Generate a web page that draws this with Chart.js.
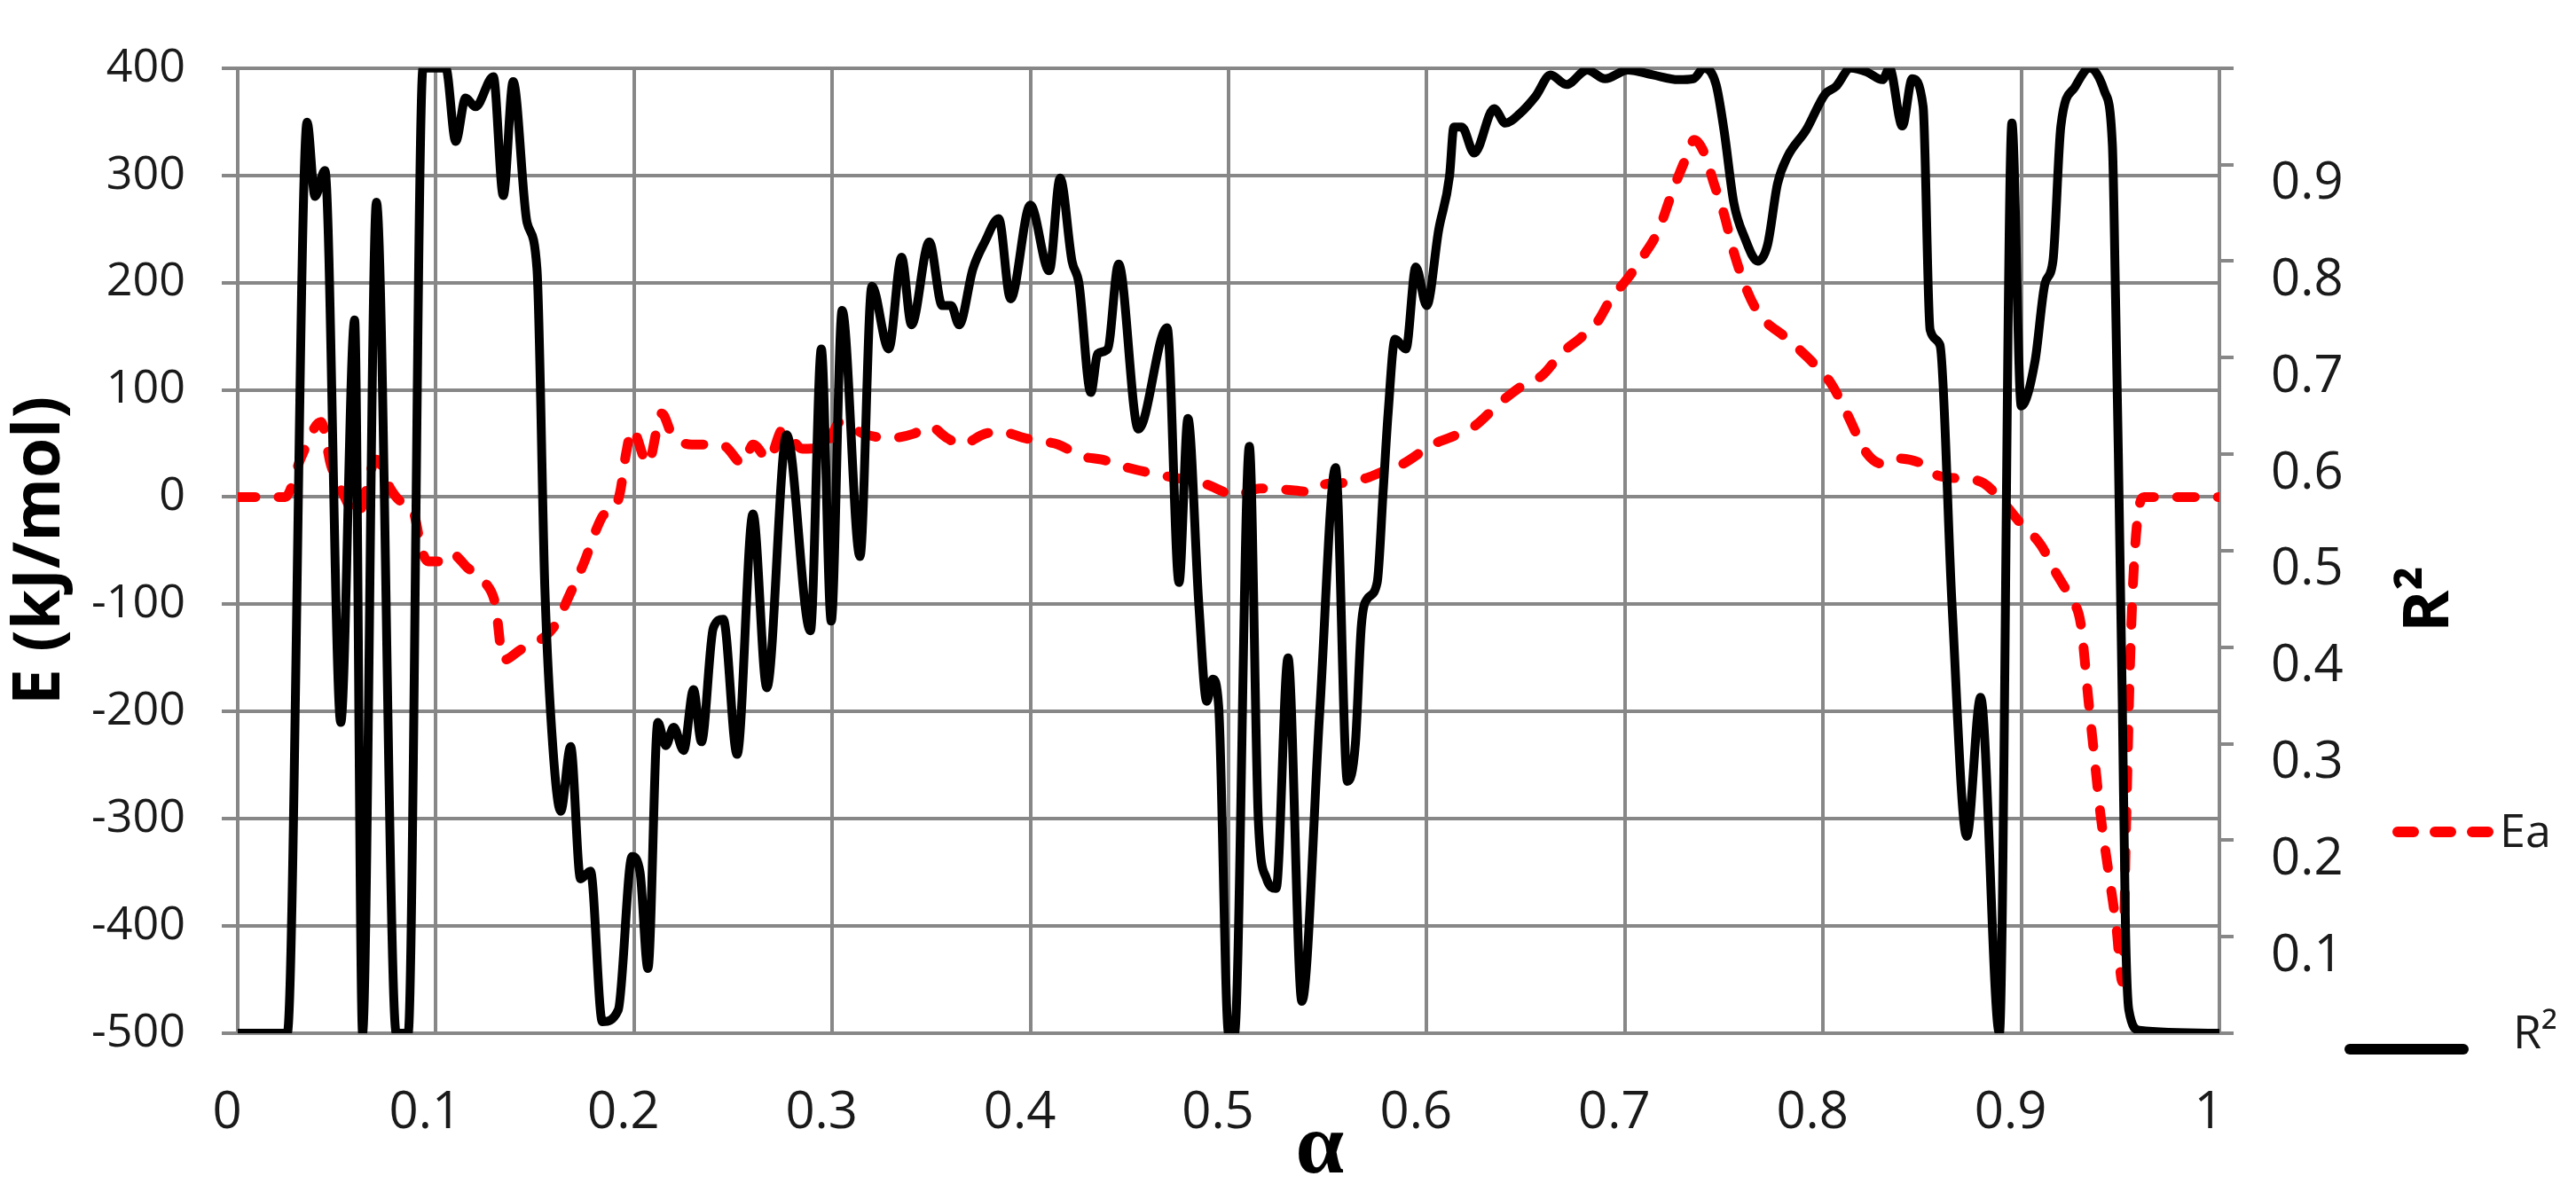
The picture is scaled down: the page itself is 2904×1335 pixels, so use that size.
<!DOCTYPE html>
<html>
<head>
<meta charset="utf-8">
<script src="https://cdn.jsdelivr.net/npm/chart.js@4.4.0/dist/chart.umd.min.js"></script>
<style>
  html, body { margin: 0; padding: 0; background: #fff; }
  #wrap { width: 2904px; height: 1335px; position: relative; }
</style>
</head>
<body>
<div id="wrap"><canvas id="chart"></canvas></div>
<script>
// conversion degree
var alphaEa = [0, 0.024, 0.032, 0.042, 0.047, 0.054, 0.060, 0.070, 0.077, 0.083,
  0.088, 0.093, 0.096, 0.104, 0.108, 0.116, 0.125, 0.130, 0.134, 0.143,
  0.155, 0.161, 0.167, 0.175, 0.181, 0.185, 0.190, 0.193, 0.196, 0.199,
  0.207, 0.214, 0.219, 0.229, 0.235, 0.245, 0.255, 0.260, 0.268, 0.275,
  0.285, 0.297, 0.304, 0.316, 0.329, 0.341, 0.349, 0.358, 0.365, 0.377,
  0.385, 0.397, 0.406, 0.414, 0.426, 0.436, 0.450, 0.467, 0.487, 0.504,
  0.516, 0.528, 0.541, 0.549, 0.557, 0.570, 0.578, 0.588, 0.603, 0.611,
  0.624, 0.637, 0.650, 0.658, 0.668, 0.678, 0.686, 0.693, 0.701, 0.709,
  0.717, 0.724, 0.731, 0.735, 0.740, 0.745, 0.750, 0.755, 0.762, 0.768,
  0.781, 0.794, 0.804, 0.812, 0.822, 0.830, 0.837, 0.850, 0.858, 0.871,
  0.881, 0.891, 0.899, 0.910, 0.917, 0.925, 0.930, 0.934, 0.937, 0.940,
  0.944, 0.948, 0.951, 0.953, 0.955, 0.957, 0.960, 0.962, 1];
// activation energy, kJ/mol
var ea = [0, 0, 37, 70, 30, 0, -18, 35, 8, -5,
  -10, -50, -60, -60, -53, -66, -80, -100, -152, -142,
  -130, -117, -93, -60, -30, -16, -12, 5, 41, 63,
  31, 78, 59, 49, 49, 48, 31, 49, 35, 63,
  45, 49, 70, 59, 55, 59, 66, 55, 49, 59,
  61, 55, 52, 49, 38, 35, 27, 20, 13, 2,
  8, 7, 5, 12, 13, 18, 24, 31, 49, 55,
  66, 88, 106, 113, 134, 149, 163, 185, 203, 224,
  249, 285, 317, 333, 321, 292, 264, 228, 191, 170,
  149, 127, 106, 78, 41, 31, 36, 31, 20, 17,
  13, -5, -23, -45, -69, -95, -118, -191, -244, -296,
  -349, -401, -452, -300, -150, -60, -5, 0, 0];

var alphaR2 = [0, 0.025, 0.035, 0.039, 0.044, 0.052, 0.059, 0.063, 0.070, 0.080,
  0.086, 0.0935, 0.105, 0.110, 0.115, 0.120, 0.129, 0.134, 0.139, 0.146,
  0.151, 0.155, 0.159, 0.163, 0.168, 0.173, 0.178, 0.184, 0.192, 0.199,
  0.203, 0.207, 0.212, 0.216, 0.220, 0.225, 0.230, 0.234, 0.240, 0.245,
  0.252, 0.260, 0.267, 0.277, 0.289, 0.2945, 0.2995, 0.305, 0.314, 0.320,
  0.3285, 0.335, 0.340, 0.349, 0.3555, 0.360, 0.364, 0.371, 0.377, 0.384,
  0.390, 0.400, 0.4095, 0.415, 0.421, 0.4245, 0.4305, 0.434, 0.439, 0.4445,
  0.4545, 0.469, 0.475, 0.4795, 0.485, 0.489, 0.492, 0.495, 0.500, 0.503,
  0.5105, 0.515, 0.519, 0.524, 0.530, 0.537, 0.546, 0.554, 0.560, 0.564,
  0.567, 0.570, 0.575, 0.578, 0.5805, 0.584, 0.5895, 0.5945, 0.600, 0.606,
  0.6115, 0.6137, 0.6177, 0.624, 0.634, 0.6397, 0.647, 0.655, 0.6625, 0.6705,
  0.681, 0.690, 0.7015, 0.714, 0.727, 0.7345, 0.740, 0.746, 0.750, 0.755,
  0.7605, 0.767, 0.772, 0.777, 0.782, 0.7915, 0.801, 0.8065, 0.814, 0.822,
  0.830, 0.8335, 0.840, 0.845, 0.8505, 0.854, 0.859, 0.865, 0.8725, 0.8795,
  0.889, 0.8953, 0.900, 0.907, 0.912, 0.916, 0.920, 0.927, 0.9346, 0.942,
  0.946, 0.9476, 0.949, 0.951, 0.9526, 0.9543, 0.9597, 1];
var r2 = [0, 0, 0.944, 0.867, 0.894, 0.322, 0.739, 0, 0.861, 0,
  0, 1, 1, 0.924, 0.969, 0.960, 0.991, 0.868, 0.986, 0.840,
  0.792, 0.460, 0.297, 0.230, 0.297, 0.160, 0.168, 0.012, 0.024, 0.183,
  0.167, 0.067, 0.322, 0.298, 0.317, 0.293, 0.356, 0.302, 0.420, 0.429,
  0.289, 0.538, 0.358, 0.620, 0.417, 0.709, 0.427, 0.749, 0.494, 0.774,
  0.709, 0.804, 0.734, 0.820, 0.754, 0.754, 0.734, 0.792, 0.820, 0.844,
  0.761, 0.858, 0.790, 0.886, 0.800, 0.777, 0.664, 0.704, 0.709, 0.797,
  0.626, 0.731, 0.467, 0.637, 0.444, 0.344, 0.367, 0.339, 0, 0,
  0.608, 0.222, 0.161, 0.150, 0.389, 0.033, 0.333, 0.586, 0.261, 0.300,
  0.422, 0.450, 0.467, 0.561, 0.642, 0.719, 0.709, 0.794, 0.754, 0.832,
  0.888, 0.939, 0.939, 0.912, 0.958, 0.943, 0.953, 0.971, 0.993, 0.983,
  0.998, 0.989, 0.998, 0.993, 0.988, 0.989, 1, 0.983, 0.936, 0.860,
  0.824, 0.800, 0.817, 0.880, 0.908, 0.936, 0.973, 0.981, 1, 0.996,
  0.988, 1, 0.940, 0.989, 0.960, 0.729, 0.713, 0.447, 0.204, 0.348,
  0, 0.943, 0.650, 0.697, 0.777, 0.800, 0.940, 0.980, 1, 0.976,
  0.920, 0.761, 0.601, 0.343, 0.110, 0.024, 0.003, 0];

var gridColor = '#878787';
var textColor = '#1a1a1a';
var dash = [20, 26];

function points(xs, ys) {
  return xs.map(function (x, i) { return { x: x, y: ys[i] }; });
}

// alpha, rotated R² title and the legend on the right side
var extras = {
  id: 'extras',
  afterDraw: function (chart) {
    var ctx = chart.ctx;
    var area = chart.chartArea;
    var sets = chart.data.datasets;
    ctx.save();
    ctx.fillStyle = '#000';

    ctx.font = 'bold 98px "Liberation Serif"';
    ctx.textAlign = 'center';
    ctx.textBaseline = 'alphabetic';
    ctx.fillText('α', area.left + (area.right - area.left) * 0.546, 1322);

    ctx.save();
    ctx.translate(area.right + 258, 713);
    ctx.rotate(-Math.PI / 2);
    ctx.font = 'bold 72px "Open Sans"';
    ctx.textAlign = 'left';
    ctx.fillText('R²', 0, 0);
    ctx.restore();

    ctx.lineCap = 'round';
    ctx.lineWidth = 12;
    ctx.strokeStyle = sets[0].borderColor;
    ctx.setLineDash([18, 24]);
    ctx.beginPath();
    ctx.moveTo(area.right + 201, 938);
    ctx.lineTo(area.right + 305, 938);
    ctx.stroke();

    ctx.setLineDash([]);
    ctx.strokeStyle = sets[1].borderColor;
    ctx.beginPath();
    ctx.moveTo(area.right + 147, 1183);
    ctx.lineTo(area.right + 275, 1183);
    ctx.stroke();

    ctx.font = '52px "Open Sans"';
    ctx.fillStyle = textColor;
    ctx.textAlign = 'left';
    ctx.fillText(sets[0].label, area.right + 316, 955);
    ctx.fillText(sets[1].label, area.right + 331, 1182);
    ctx.restore();
  }
};

new Chart(document.getElementById('chart'), {
  type: 'line',
  data: {
    datasets: [
      {
        label: 'Ea',
        data: points(alphaEa, ea),
        yAxisID: 'y',
        borderColor: '#ff0000',
        borderWidth: 11,
        borderDash: dash,
        borderCapStyle: 'round',
        pointRadius: 0,
        cubicInterpolationMode: 'monotone',
        fill: false,
        order: 2
      },
      {
        label: 'R²',
        data: points(alphaR2, r2),
        yAxisID: 'y1',
        borderColor: '#000000',
        borderWidth: 10,
        pointRadius: 0,
        cubicInterpolationMode: 'monotone',
        fill: false,
        order: 1
      }
    ]
  },
  options: {
    responsive: true,
    maintainAspectRatio: false,
    animation: false,
    events: [],
    layout: { padding: { top: 43, right: 134, left: 0, bottom: 0 } },
    plugins: {
      legend: { display: false },
      tooltip: { enabled: false }
    },
    scales: {
      x: {
        type: 'linear',
        min: 0,
        max: 1,
        ticks: {
          stepSize: 0.1,
          padding: 56,
          labelOffset: -12,
          color: textColor,
          font: { family: 'Open Sans', size: 58 },
          maxRotation: 0,
          callback: function (v) {
            if (v === 0) return '0';
            if (Math.abs(v - 1) < 1e-9) return '1';
            return v.toFixed(1);
          }
        },
        grid: { color: gridColor, lineWidth: 4, drawTicks: false },
        border: { display: false },
        afterFit: function (s) { s.height = 170; }
      },
      y: {
        position: 'left',
        min: -500,
        max: 400,
        ticks: {
          stepSize: 100,
          padding: 41,
          color: textColor,
          font: { family: 'Open Sans', size: 52 }
        },
        grid: { color: gridColor, lineWidth: 4, tickLength: 18 },
        border: { display: false },
        title: {
          display: true,
          text: 'E (kJ/mol)',
          color: '#000',
          font: { family: 'Open Sans', size: 73, weight: 'bold' },
          padding: { top: 2, bottom: 0 }
        },
        afterFit: function (s) { s.width = 268; }
      },
      y1: {
        position: 'right',
        min: 0,
        max: 1,
        ticks: {
          stepSize: 0.1,
          padding: 42,
          labelOffset: 22,
          color: textColor,
          font: { family: 'Open Sans', size: 58 },
          callback: function (v) {
            if (v < 0.05 || v > 0.95) return '';
            return v.toFixed(1);
          }
        },
        grid: { drawOnChartArea: false, color: gridColor, lineWidth: 4, tickLength: 16 },
        border: { display: false },
        afterFit: function (s) { s.width = 268; }
      }
    }
  },
  plugins: [extras]
});
</script>
</body>
</html>
